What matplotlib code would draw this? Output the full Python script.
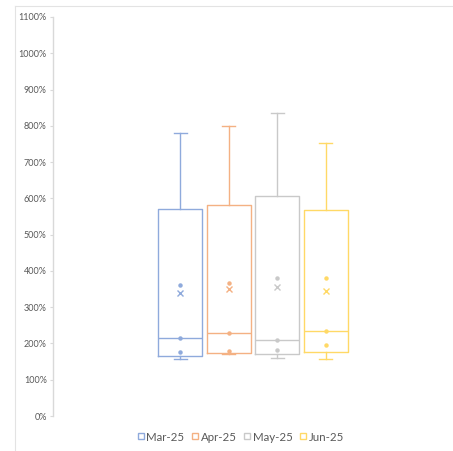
import matplotlib.pyplot as plt
from matplotlib.lines import Line2D

# box plot of monthly ratios
months = ['Mar-25', 'Apr-25', 'May-25', 'Jun-25']
whisker_lo = [1.56, 1.70, 1.60, 1.57]
q1 = [1.65, 1.74, 1.72, 1.76]
median = [2.16, 2.30, 2.10, 2.35]
q3 = [5.70, 5.82, 6.07, 5.67]
whisker_hi = [7.80, 7.99, 8.35, 7.54]
mean = [3.38, 3.49, 3.55, 3.45]
inner_points = [
    [1.76, 2.16, 3.60],
    [1.78, 2.30, 3.68],
    [1.83, 2.10, 3.80],
    [1.96, 2.35, 3.80],
]
colors = ['#8FAADC', '#F4B183', '#C9C9C9', '#FFD966']

plt.rcParams['font.family'] = ['Lato', 'DejaVu Sans']

fig = plt.figure(figsize=(4.53, 4.51), dpi=100)
ax = fig.add_axes([53 / 453, 35 / 451, 1 - 53 / 453, 399 / 451])

positions = [1, 2, 3, 4]
for i, m in enumerate(months):
    stats = [{
        'whislo': whisker_lo[i], 'q1': q1[i], 'med': median[i],
        'q3': q3[i], 'whishi': whisker_hi[i], 'mean': mean[i], 'fliers': [],
    }]
    c = colors[i]
    ax.bxp(stats, positions=[positions[i]], widths=0.91, showmeans=True,
           showfliers=False, patch_artist=False, capwidths=0.27,
           boxprops=dict(color=c, linewidth=1.0),
           whiskerprops=dict(color=c, linewidth=1.0),
           capprops=dict(color=c, linewidth=1.0),
           medianprops=dict(color=c, linewidth=1.0),
           meanprops=dict(marker='x', markeredgecolor=c, markersize=4,
                          markeredgewidth=1.0))
    ax.plot([positions[i]] * len(inner_points[i]), inner_points[i], 'o',
            color=c, markersize=2.2, linestyle='none')

ax.set_xlim(-1.62, 6.62)
ax.set_ylim(0, 11)
ax.set_yticks(range(0, 12))
ax.set_yticklabels([f'{v * 100}%' for v in range(0, 12)])
ax.tick_params(axis='y', labelsize=6.5, colors='#D9D9D9', labelcolor='#595959',
               length=2.5, width=0.8, pad=2)
ax.set_xticks([])
for s in ['top', 'right', 'bottom']:
    ax.spines[s].set_visible(False)
ax.spines['left'].set_color('#D9D9D9')
ax.spines['left'].set_linewidth(1.0)

# chart area border (top and left edges)
fig.add_artist(Line2D([15 / 453, 1], [1 - 6 / 451, 1 - 6 / 451],
                      color='#E3E3E3', linewidth=0.8))
fig.add_artist(Line2D([15 / 453, 15 / 453], [0, 1 - 6 / 451],
                      color='#E3E3E3', linewidth=0.8))

handles = [Line2D([], [], marker='s', linestyle='none', markerfacecolor='white',
                  markeredgecolor=c, markersize=5, markeredgewidth=1.0)
           for c in colors]
fig.legend(handles, months, loc='center', bbox_to_anchor=(0.53, 0.031),
           ncol=4, frameon=False, fontsize=8.3, handletextpad=0.1,
           columnspacing=0.5, handlelength=0.8, labelcolor='#595959')

plt.savefig('out.png', dpi=100)
